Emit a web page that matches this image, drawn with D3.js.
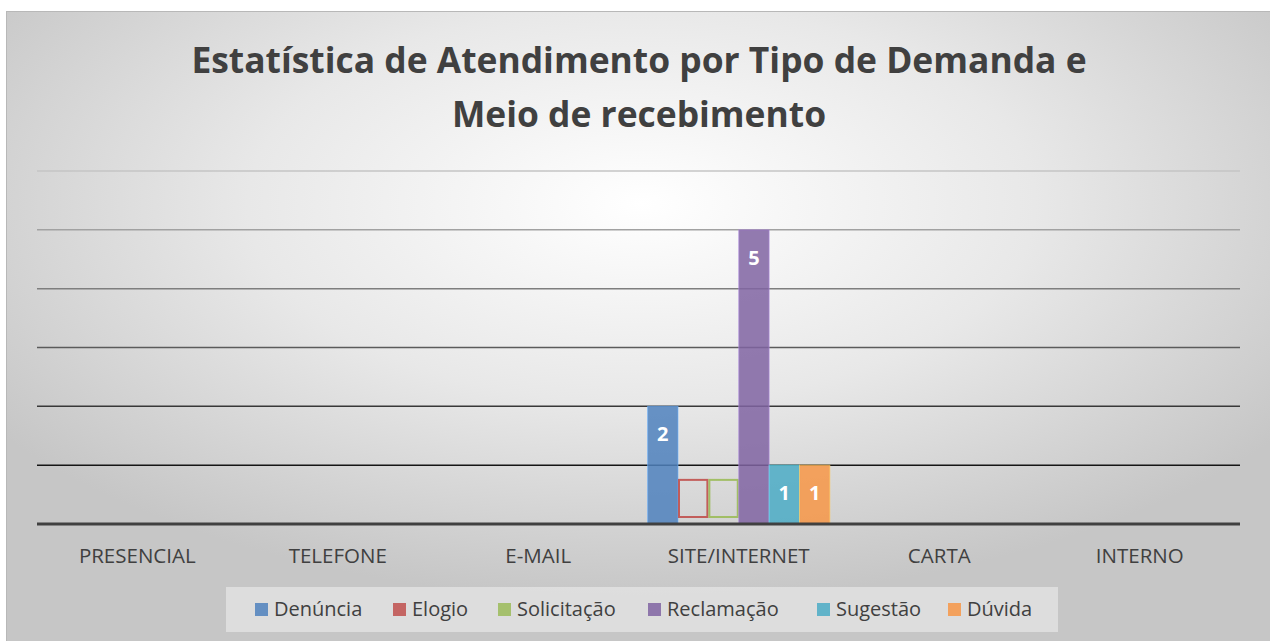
<!DOCTYPE html>
<html>
<head>
<meta charset="utf-8">
<script src="https://cdn.jsdelivr.net/npm/d3@7"></script>
<style>
  body { margin: 0; background: #fff; }
  svg { display: block; }
</style>
</head>
<body>
<div id="chart"></div>
<script>
// data
const categories = ["PRESENCIAL", "TELEFONE", "E-MAIL", "SITE/INTERNET", "CARTA", "INTERNO"];
const seriesNames = ["Denúncia", "Elogio", "Solicitação", "Reclamação", "Sugestão", "Dúvida"];
const seriesColors = ["#4f81bd", "#c0504d", "#9bbb59", "#8064a2", "#4bacc6", "#f79646"];
// one value per category for each series (null = nothing drawn)
const denuncia    = [null, null, null, 2, null, null];
const elogio      = [null, null, null, 0.75, null, null];
const solicitacao = [null, null, null, 0.75, null, null];
const reclamacao  = [null, null, null, 5, null, null];
const sugestao    = [null, null, null, 1, null, null];
const duvida      = [null, null, null, 1, null, null];
// series drawn only as empty outlines, without a label
const outlineOnly = ["Elogio", "Solicitação"];
const yTicks = [0, 1, 2, 3, 4, 5, 6];
const titleLines = ["Estatística de Atendimento por Tipo de Demanda e", "Meio de recebimento"];

const width = 1270, height = 641;
const margin = {left: 37, right: 30, top: 171, bottom: 117};

const values = [denuncia, elogio, solicitacao, reclamacao, sugestao, duvida];
const rows = [];
categories.forEach((c, ci) => {
  seriesNames.forEach((s, si) => {
    if (values[si][ci] != null) rows.push({cat: c, serie: s, si: si, value: values[si][ci]});
  });
});
const isOutline = d => outlineOnly.includes(d.serie);

const svg = d3.select("#chart").append("svg")
  .attr("width", width)
  .attr("height", height);

// panel background: light centre, grey edges
const defs = svg.append("defs");
const grad = defs.append("radialGradient")
  .attr("id", "bg")
  .attr("cx", "50%").attr("cy", "30%").attr("r", "62%");
grad.append("stop").attr("offset", "0%").attr("stop-color", "#ffffff");
grad.append("stop").attr("offset", "50%").attr("stop-color", "#e8e8e8");
grad.append("stop").attr("offset", "100%").attr("stop-color", "#c6c6c6");

svg.append("rect")
  .attr("x", 6.5).attr("y", 11.5)
  .attr("width", width).attr("height", height)
  .attr("fill", "url(#bg)")
  .attr("stroke", "#b8b8b8")
  .attr("stroke-width", 1);

// title
svg.append("text")
  .attr("text-anchor", "middle")
  .style("font-family", "'Open Sans', sans-serif")
  .style("font-weight", "700")
  .style("font-size", "35.4px")
  .style("fill", "#404040")
  .selectAll("tspan")
  .data(titleLines)
  .enter().append("tspan")
  .attr("x", 639)
  .attr("y", (d, i) => 73 + i * 54)
  .text(d => d);

const x0 = d3.scaleBand()
  .domain(categories)
  .range([margin.left, width - margin.right]);
const x1 = d3.scaleBand()
  .domain(seriesNames)
  .range([0, x0.bandwidth()])
  .paddingOuter(0.3);   // the six bars fill ~90% of the band
const y = d3.scaleLinear()
  .domain([0, 6])
  .range([height - margin.bottom, margin.top]);

// gridlines, darker towards the bottom
const gridColor = d3.scaleLinear().domain([6, 1]).range(["#c4c4c4", "#151515"]);
svg.append("g")
  .selectAll("line")
  .data(yTicks.filter(d => d > 0))
  .enter().append("line")
  .attr("x1", margin.left).attr("x2", width - margin.right)
  .attr("y1", d => y(d)).attr("y2", d => y(d))
  .attr("stroke", d => gridColor(d))
  .attr("stroke-width", 1.5);

// bars
const bars = svg.append("g");
bars.selectAll("rect")
  .data(rows)
  .enter().append("rect")
  .attr("x", d => x0(d.cat) + x1(d.serie) + (isOutline(d) ? 1 : 0))
  .attr("y", d => y(d.value))
  .attr("width", d => x1.bandwidth() - (isOutline(d) ? 2 : 0))
  .attr("height", d => isOutline(d) ? y(0) - y(d.value) - 7 : y(0) - y(d.value))
  .attr("fill", d => isOutline(d) ? "none" : seriesColors[d.si])
  .attr("fill-opacity", 0.85)
  .attr("stroke", d => isOutline(d) ? seriesColors[d.si] : d3.color(seriesColors[d.si]).brighter(0.9))
  .attr("stroke-opacity", d => isOutline(d) ? 0.9 : 0.6)
  .attr("stroke-width", d => isOutline(d) ? 2 : 1);

// data labels
bars.selectAll("text")
  .data(rows.filter(d => !isOutline(d)))
  .enter().append("text")
  .attr("x", d => x0(d.cat) + x1(d.serie) + x1.bandwidth() / 2)
  .attr("y", d => y(d.value) + 35)
  .attr("text-anchor", "middle")
  .style("font-family", "'Open Sans', sans-serif")
  .style("font-weight", "700")
  .style("font-size", "20px")
  .style("fill", "#ffffff")
  .text(d => d.value);

// baseline
svg.append("line")
  .attr("x1", margin.left).attr("x2", width - margin.right)
  .attr("y1", y(0)).attr("y2", y(0))
  .attr("stroke", "#404040")
  .attr("stroke-width", 3);

// category axis
const xAxis = svg.append("g")
  .attr("transform", "translate(0," + y(0) + ")")
  .call(d3.axisBottom(x0).tickSize(0));
xAxis.select(".domain").remove();
xAxis.selectAll("text")
  .attr("dy", null)
  .attr("y", 39)
  .style("font-family", "'Open Sans', sans-serif")
  .style("font-size", "20.5px")
  .style("fill", "#404040");

// legend
const legend = svg.append("g").attr("transform", "translate(226, 587)");
legend.append("rect")
  .attr("width", 832).attr("height", 45)
  .attr("fill", "#ffffff").attr("fill-opacity", 0.4);
const legendX = [29, 167, 272, 422, 591, 722];
const items = legend.selectAll(".item")
  .data(seriesNames)
  .enter().append("g")
  .attr("class", "item")
  .attr("transform", (d, i) => "translate(" + legendX[i] + ",0)");
items.append("rect")
  .attr("x", 0).attr("y", 16)
  .attr("width", 13).attr("height", 13)
  .attr("fill", (d, i) => seriesColors[i])
  .attr("fill-opacity", 0.85);
items.append("text")
  .attr("x", 19).attr("y", 29)
  .style("font-family", "'Open Sans', sans-serif")
  .style("font-size", "20px")
  .style("fill", "#404040")
  .text(d => d);
</script>
</body>
</html>
